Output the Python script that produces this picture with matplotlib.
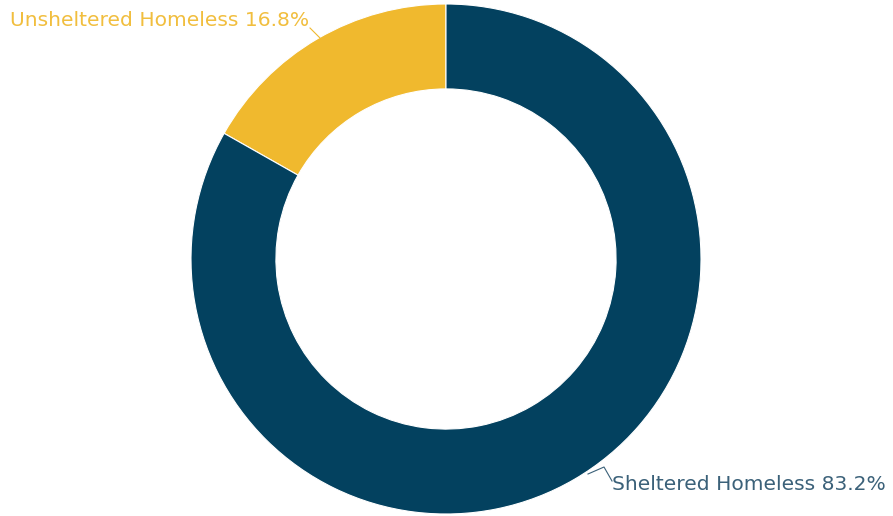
import matplotlib.pyplot as plt

labels = ['Unsheltered Homeless', 'Sheltered Homeless']
shares = [16.8, 83.2]
colors = ['#F0B92E', '#03415F']
text_colors = ['#F1BE3E', '#3B6179']

fig = plt.figure(figsize=(8.93, 5.16), dpi=100)
W, H = 893, 516
cx, cy, r = 446, 259, 255
ax = fig.add_axes([(cx - r) / W, (H - cy - r) / H, 2 * r / W, 2 * r / H])

ax.pie(shares, colors=colors, startangle=90, counterclock=True, radius=1,
       wedgeprops=dict(width=0.333, edgecolor='white', linewidth=0.8))
ax.set_xlim(-1, 1)
ax.set_ylim(-1, 1)
ax.set_aspect('equal')
ax.axis('off')

def px(x, y):
    # pixel -> data coords
    return (x - cx) / r, (cy - y) / r

# labels with leader lines
p1 = [px(310, 28), px(321, 39)]
ax.plot([p[0] for p in p1], [p[1] for p in p1], color=colors[0], lw=0.8, clip_on=False)
tx, ty = px(10, 20)
ax.text(tx, ty, f'{labels[0]} {shares[0]}%', color=text_colors[0], fontsize=14.6,
        ha='left', va='center', clip_on=False)

p2 = [px(588, 474), px(604, 467), px(612, 481)]
ax.plot([p[0] for p in p2], [p[1] for p in p2], color=text_colors[1], lw=0.8, clip_on=False)
tx, ty = px(612, 485)
ax.text(tx, ty, f'{labels[1]} {shares[1]}%', color=text_colors[1], fontsize=14.6,
        ha='left', va='center', clip_on=False)

fig.savefig('out.png', dpi=100)
